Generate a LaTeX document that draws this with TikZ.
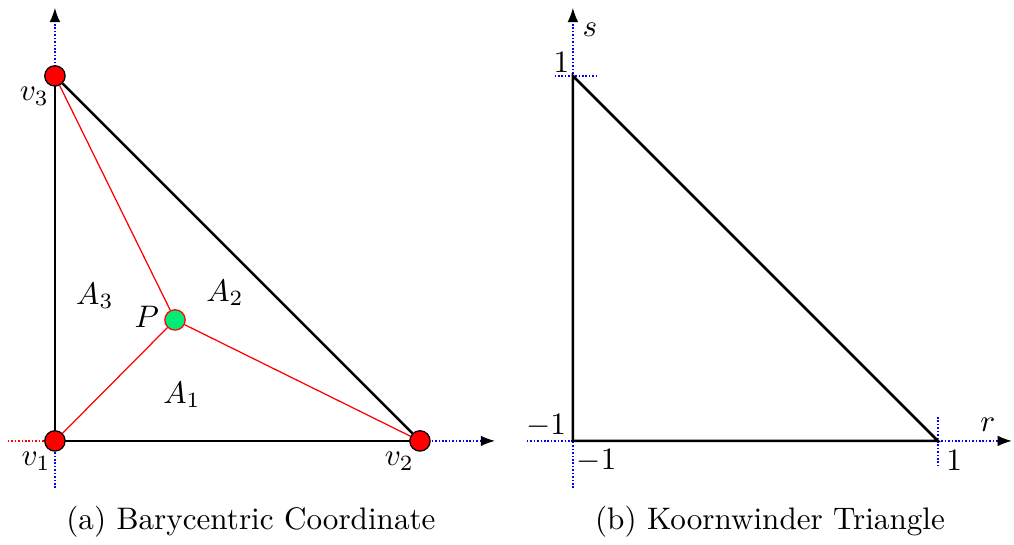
\documentclass[tikz,border=0pt]{standalone}
\usepackage{amsmath}
\usepackage{tikz}
\usetikzlibrary{arrows.meta,positioning}
\definecolor{pgreen}{RGB}{0,235,120}

\begin{document}
\begin{tikzpicture}[
    x=2.06cm, y=2.06cm,
    vertex/.style={circle, draw=black, fill=red, minimum size=2.3mm, inner sep=0pt},
    point/.style={circle, draw=red, fill=pgreen, minimum size=2.3mm, inner sep=0pt},
    edge/.style={thick, black},
    split/.style={red},
    dots/.style={dash pattern=on 0.5pt off 0.6pt, line width=0.45pt},
    axis/.style={dots, blue, -{Latex[black, length=1.6mm, width=1.2mm]}},
    guide/.style={dots, blue},
    tag/.style={inner sep=1pt}
]

\def\xRight{3.838}

\useasboundingbox (-0.301,-0.570) rectangle (5.255,2.416);

\coordinate (xl) at (-0.258,0);
\coordinate (o) at (0,0);
\coordinate (xa) at (2.411,0);
\coordinate (yl) at (0,-0.258);
\coordinate (ya) at (0,2.373);

\draw[dots, red] (xl) -- (o);
\draw[axis] (o) -- (xa);
\draw[axis] (yl) -- (ya);

\node[vertex] (v1) at (0,0) {};
\node[vertex] (v2) at (2,0) {};
\node[vertex] (v3) at (0,2) {};
\node[point] (P) at (0.658,0.663) {};

\draw[edge] (v1) -- (v2);
\draw[edge] (v2) -- (v3);
\draw[edge] (v3) -- (v1);

\draw[split] (P) -- (v1);
\draw[split] (P) -- (v2);
\draw[split] (P) -- (v3);

\node[tag, below left=0pt and -0.8mm of v1] (l1) {$v_1$};
\node[tag, below left=0pt and -0.6mm of v2] (l2) {$v_2$};
\node[tag, below left=0pt and -0.6mm of v3] (l3) {$v_3$};
\node[tag, left=0.5pt of P, yshift=1pt] (lP) {$P$};

\node (A1) at (0.696,0.252) {$A_1$};
\node (A2) at (0.932,0.811) {$A_2$};
\node (A3) at (0.219,0.795) {$A_3$};

\node (capA) at (1.074,-0.444) {(a) Barycentric Coordinate};

\begin{scope}[shift={(\xRight,1)}]
\coordinate (c1) at (-1,-1);
\coordinate (c2) at (1,-1);
\coordinate (c3) at (-1,1);
\coordinate (rl) at (-1.252,-1);
\coordinate (ra) at (1.405,-1);
\coordinate (sl) at (-1,-1.258);
\coordinate (sa) at (-1,1.373);
\coordinate (t1) at (1,-1.14);
\coordinate (t2) at (1,-0.86);
\coordinate (t3) at (-1.1,1);
\coordinate (t4) at (-0.874,1);

\draw[axis] (rl) -- (ra);
\draw[axis] (sl) -- (sa);
\draw[guide] (t1) -- (t2);
\draw[guide] (t3) -- (t4);

\draw[edge] (c1) -- (c2) -- (c3) -- cycle;

\node[tag, above left=0pt of c3] (s1) {$1$};
\node[tag, above left=0pt and 1pt of c1] (s0) {$-1$};
\node[tag, below right=1.5pt and 0pt of c1] (r0) {$-1$};
\node[tag, below right=2pt and 1.5pt of c2] (r1) {$1$};
\node (r) at (1.274,-0.912) {$r$};
\node (s) at (-0.907,1.252) {$s$};

\node (capB) at (0.08,-1.444) {(b) Koornwinder Triangle};
\end{scope}

\end{tikzpicture}
\end{document}
